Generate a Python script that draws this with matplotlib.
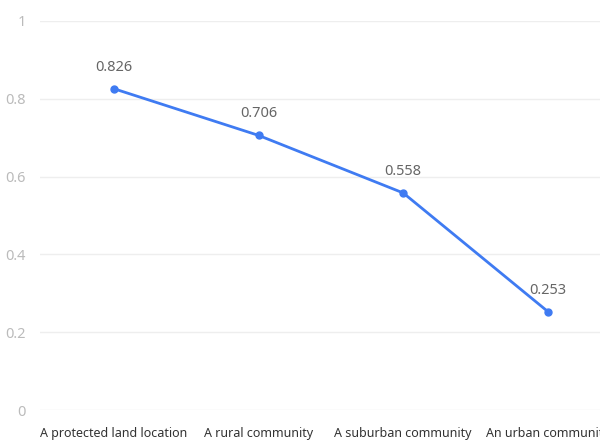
import matplotlib.pyplot as plt

# Data
categories = ['A protected land location', 'A rural community',
              'A suburban community', 'An urban community']
values = [0.826, 0.706, 0.558, 0.253]
y_ticks = [0, 0.2, 0.4, 0.6, 0.8, 1]
y_tick_labels = ['0', '0.2', '0.4', '0.6', '0.8', '1']

plt.rcParams['font.family'] = ['Noto Sans', 'DejaVu Sans']

fig = plt.figure(figsize=(6, 4.41), dpi=100)
ax = fig.add_axes([40 / 600, 31 / 441, 560 / 600, 389 / 441])

x = list(range(len(categories)))
ax.plot(x, values, color='#3f7bf2', linewidth=2, marker='o', markersize=5, zorder=3)

# value labels
for xi, v in zip(x, values):
    ax.annotate(f'{v:.3f}', (xi, v), xytext=(0, 10), textcoords='offset points',
                ha='center', va='bottom', color='#666666', fontsize=10.5)

ax.set_xlim(-0.51, 3.36)
ax.set_ylim(0, 1)
ax.set_yticks(y_ticks)
ax.set_yticklabels(y_tick_labels, color='#bbbbbb', fontsize=10.5)
ax.set_xticks(x)
ax.set_xticklabels(categories, color='#333333', fontsize=9)
ax.tick_params(length=0)
ax.tick_params(axis='y', pad=10)
ax.tick_params(axis='x', pad=12)
ax.grid(axis='y', color='#eeeeee', linewidth=1)
ax.set_axisbelow(True)
for s in ax.spines.values():
    s.set_visible(False)

fig.savefig('out.png', dpi=100)
